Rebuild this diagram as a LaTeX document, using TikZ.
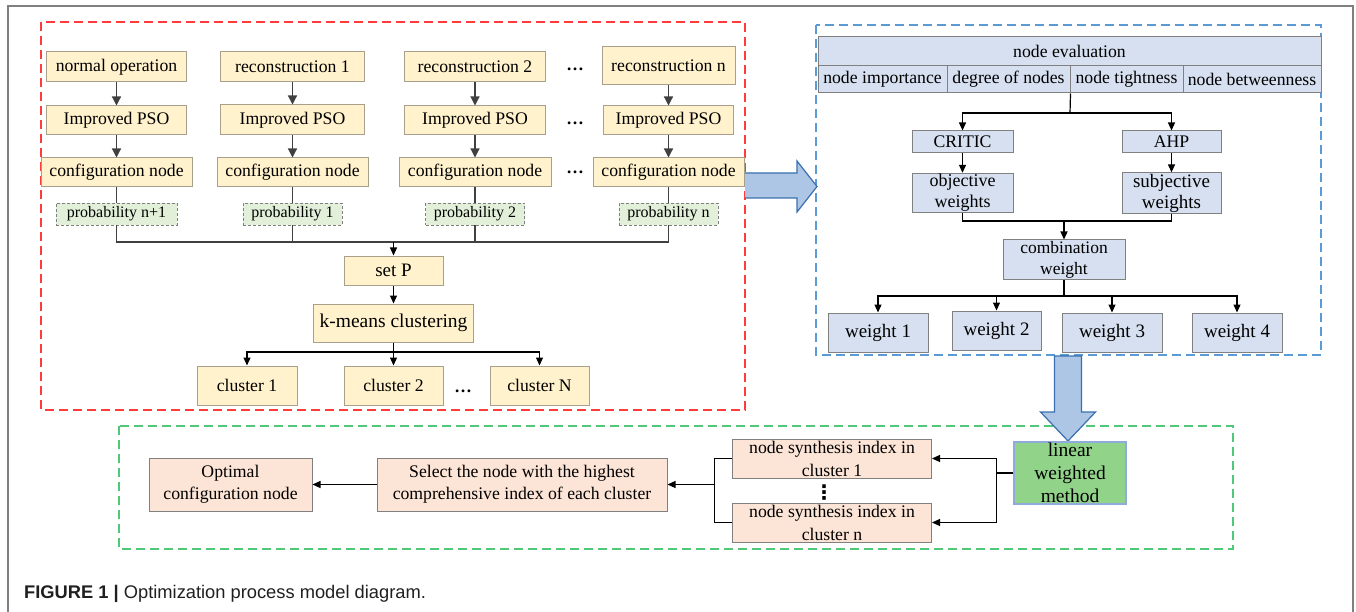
\documentclass[tikz,border=0pt]{standalone}
\usepackage{fontspec}
\setmainfont{Liberation Serif}
\newfontfamily\capfont{Liberation Sans}
\newfontfamily\symfont{DejaVu Sans}
\usetikzlibrary{arrows.meta}
\definecolor{yfill}{HTML}{FFF2CC}
\definecolor{ydraw}{HTML}{A8A08A}
\definecolor{gfill}{HTML}{E2F0D9}
\definecolor{bfill}{HTML}{D6E0F0}
\definecolor{pfill}{HTML}{FCE4D6}
\definecolor{lfill}{HTML}{92D38A}
\definecolor{ldraw}{HTML}{8FAADC}
\definecolor{afill}{HTML}{ADC6E6}
\definecolor{adraw}{HTML}{3A70AE}
\definecolor{redd}{HTML}{FF3B3B}
\definecolor{blued}{HTML}{5B9BD5}
\definecolor{greend}{HTML}{50C878}
\definecolor{framec}{HTML}{808080}
\definecolor{linec}{HTML}{404040}
\begin{document}
\begin{tikzpicture}[x=1pt,y=-1pt,
  font=\fontsize{17.7}{22}\selectfont,
  base/.style={rectangle, inner sep=1pt, align=center},
  ybox/.style={base, fill=yfill, draw=ydraw, line width=1pt},
  gbox/.style={base, fill=gfill, draw=framec, line width=0.8pt, dash pattern=on 3pt off 2pt, font=\fontsize{16}{20}\selectfont},
  bbox/.style={base, fill=bfill, draw=framec, line width=1pt},
  pbox/.style={base, fill=pfill, draw=framec, line width=1pt},
  lbox/.style={base, fill=lfill, draw=ldraw, line width=1.5pt, font=\fontsize{19.5}{23}\selectfont},
  con/.style={draw=linec, line width=1.2pt},
  arr/.style={con, -{Triangle[length=9pt,width=9pt]}},
  arrs/.style={draw=black, line width=1.2pt, -{Triangle[length=8pt,width=7pt]}},
  conb/.style={draw=black, line width=1.2pt},
  dots/.style={inner sep=0pt, font=\fontsize{17.5}{22}\selectfont\bfseries},
  region/.style={line width=1.6pt, dash pattern=on 9pt off 5pt},
  bigarrow/.style={fill=afill, draw=adraw, line width=1.2pt, line join=miter},
]
\useasboundingbox (0,0) rectangle (1356,612);
% outer frame
\draw[framec, line width=1.3pt] (8,612) -- (8,6) -- (1353,6) -- (1353,612);
% regions
\draw[region, redd] (41,22) rectangle (745,410);
\draw[region, blued] (816,25) rectangle (1321,355);
\draw[region, greend] (119,426) rectangle (1233,549);

% ---------- left panel ----------
\node[ybox, minimum width=140, minimum height=30] (op0) at (116.5,67) {normal operation};
\node[ybox, minimum width=144, minimum height=30] (rc1) at (292.5,67) {reconstruction 1};
\node[ybox, minimum width=141, minimum height=30] (rc2) at (475,67) {reconstruction 2};
\node[ybox, minimum width=133, minimum height=38] (rcn) at (668.5,66) {reconstruction n};
\node[dots] (d1) at (575,69) {…};

\node[ybox, minimum width=140, minimum height=29] (ps1) at (116.5,120.5) {Improved PSO};
\node[ybox, minimum width=144, minimum height=30] (ps2) at (292.5,120) {Improved PSO};
\node[ybox, minimum width=141, minimum height=29] (ps3) at (475,120.5) {Improved PSO};
\node[ybox, minimum width=130, minimum height=29] (psn) at (668.5,120.5) {Improved PSO};
\node[dots] (d2) at (575,123) {…};

\node[ybox, minimum width=151, minimum height=29] (cf1) at (116.5,172.5) {configuration node};
\node[ybox, minimum width=151, minimum height=29] (cf2) at (292.5,172.5) {configuration node};
\node[ybox, minimum width=152, minimum height=29] (cf3) at (475,172.5) {configuration node};
\node[ybox, minimum width=151, minimum height=29] (cfn) at (668.5,172.5) {configuration node};
\node[dots] (d3) at (575,172) {…};

\node[gbox, minimum width=121, minimum height=22] (pr1) at (116.5,214) {probability n+1};
\node[gbox, minimum width=99, minimum height=22] (pr2) at (292.5,214) {probability 1};
\node[gbox, minimum width=99, minimum height=22] (pr3) at (475,214) {probability 2};
\node[gbox, minimum width=99, minimum height=22] (prn) at (668.5,214) {probability n};

\foreach \a/\b in {op0/ps1, rc1/ps2, rc2/ps3, rcn/psn, ps1/cf1, ps2/cf2, ps3/cf3, psn/cfn}
  \draw[arr] (\a) -- (\b);
\foreach \a/\b in {cf1/pr1, cf2/pr2, cf3/pr3, cfn/prn}
  \draw[con] (\a) -- (\b);

\coordinate (mrg) at (393.5,242);
\node[ybox, font=\fontsize{19}{22}\selectfont, minimum width=99, minimum height=29] (setP) at (393.5,270.5) {set P};
\node[ybox, font=\fontsize{19.5}{22}\selectfont, minimum width=160, minimum height=38] (km) at (393.5,323) {k-means clustering};
\draw[con] (pr1) |- (mrg);
\draw[con] (prn) |- (mrg);
\draw[con] (pr2) -- (pr2 |- mrg);
\draw[con] (pr3) -- (pr3 |- mrg);
\draw[arrs] (mrg) -- (setP);
\draw[arrs] (setP) -- (km);

\node[ybox, minimum width=100, minimum height=39] (cl1) at (247,385.5) {cluster 1};
\node[ybox, minimum width=99, minimum height=39] (cl2) at (393.5,385.5) {cluster 2};
\node[ybox, minimum width=99, minimum height=39] (clN) at (539.5,385.5) {cluster N};
\node[dots] (d4) at (463,391) {…};
\coordinate (ksp) at (393.5,352);
\draw[conb] (km) -- (ksp);
\draw[arrs] (ksp) -| (cl1);
\draw[arrs] (ksp) -- (cl2);
\draw[arrs] (ksp) -| (clN);

% big right arrow
\draw[bigarrow] (745,173) -- (797,173) -- (797,161) -- (817,186.5) -- (797,212) -- (797,198) -- (745,198);

% ---------- right panel ----------
\node[bbox, minimum width=503, minimum height=29] (ne) at (1069.5,51.5) {node evaluation};
\node[bbox, minimum width=129, minimum height=27] (c1) at (882.5,79.5) {node importance};
\node[bbox, minimum width=123, minimum height=27] (c2) at (1008.5,79.5) {degree of nodes};
\node[bbox, minimum width=113, minimum height=27] (c3) at (1126.5,79.5) {node tightness};
\node[bbox, minimum width=138, minimum height=27] (c4) at (1252,79.5) {node betweenness};

\node[bbox, minimum width=101, minimum height=22] (critic) at (962.5,142) {CRITIC};
\node[bbox, minimum width=99, minimum height=22] (ahp) at (1171.5,142) {AHP};
\node[bbox, minimum width=101, minimum height=38, font=\fontsize{18}{21}\selectfont] (objw) at (962.5,193) {objective\\weights};
\node[bbox, minimum width=99, minimum height=38, font=\fontsize{19}{21}\selectfont] (subw) at (1171.5,193) {subjective\\weights};
\node[bbox, minimum width=122, minimum height=39, font=\fontsize{17.5}{21}\selectfont] (comb) at (1064,259.5) {combination\\weight};

\coordinate (sp1) at (c2.south east);
\coordinate (sp1b) at (1070,113);
\draw[conb] (sp1) -- (sp1b);
\draw[arrs] (sp1b) -| (critic);
\draw[arrs] (sp1b) -| (ahp);
\draw[arrs] (critic) -- (objw);
\draw[arrs] (ahp) -- (subw);
\coordinate (jn1) at (1064,221);
\draw[conb] (objw) |- (jn1);
\draw[conb] (subw) |- (jn1);
\draw[arrs] (jn1) -- (comb);

\node[bbox, minimum width=100, minimum height=39, font=\fontsize{19}{22}\selectfont] (w1) at (878,332.5) {weight 1};
\node[bbox, minimum width=89, minimum height=39, font=\fontsize{19}{22}\selectfont] (w2) at (996.5,330.5) {weight 2};
\node[bbox, minimum width=100, minimum height=39, font=\fontsize{19}{22}\selectfont] (w3) at (1112,332.5) {weight 3};
\node[bbox, minimum width=90, minimum height=39, font=\fontsize{19}{22}\selectfont] (w4) at (1237,332.5) {weight 4};
\coordinate (sp2) at (1064,296);
\draw[conb] (comb) -- (sp2);
\draw[arrs] (sp2) -| (w1);
\draw[arrs] (sp2) -| (w2);
\draw[arrs] (sp2) -| (w3);
\draw[arrs] (sp2) -| (w4);

% big down arrow
\draw[bigarrow] (1054.5,356) -- (1081.5,356) -- (1081.5,412) -- (1095.5,412) -- (1068,441) -- (1040.5,412) -- (1054.5,412) -- cycle;

% ---------- bottom panel ----------
\node[pbox, minimum width=163, minimum height=53] (opt) at (230.5,484.5) {Optimal\\configuration node};
\node[pbox, minimum width=290, minimum height=53] (sel) at (522,484.5) {Select the node with the highest\\comprehensive index of each cluster};
\node[pbox, minimum width=199, minimum height=39, font=\fontsize{17.7}{23}\selectfont] (ns1) at (832,458.5) {node synthesis index in\\cluster 1};
\node[pbox, minimum width=199, minimum height=39, font=\fontsize{17.7}{23}\selectfont] (nsn) at (832,522.5) {node synthesis index in\\cluster n};
\node[inner sep=0pt, font=\symfont\fontsize{20}{20}\selectfont\bfseries] (vd) at (824,493) {⋮};
\node[lbox, minimum width=112, minimum height=62] (lin) at (1070,473) {linear\\weighted\\method};

\coordinate (rj) at (996.7,473);
\draw[conb] (lin) -- (rj);
\draw[arrs] (rj) |- (ns1);
\draw[arrs] (rj) |- (nsn);
\coordinate (lj) at (714.6,484.5);
\draw[conb] (ns1) -| (lj);
\draw[conb] (nsn) -| (lj);
\draw[arrs] (lj) -- (sel);
\draw[arrs] (sel) -- (opt);

% caption
\node[anchor=west, inner sep=0pt, font=\capfont\fontsize{18.3}{20}\selectfont, text=black!88] (cap) at (24,594) {\textbf{FIGURE 1 |} Optimization process model diagram.};
\end{tikzpicture}
\end{document}
